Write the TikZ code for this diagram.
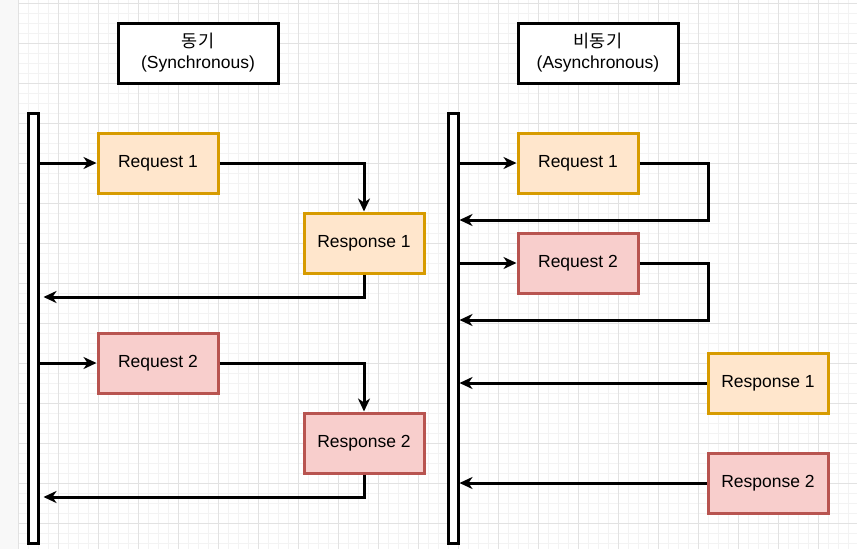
\documentclass[tikz,border=0pt]{standalone}
\usepackage{fontspec}
\setmainfont{Liberation Sans}
\newfontfamily\kofont{Noto Sans CJK KR}
\usetikzlibrary{arrows.meta}
\definecolor{gridminor}{HTML}{F3F3F3}
\definecolor{gridmajor}{HTML}{E2E2E2}
\definecolor{margin}{HTML}{F8F8F8}
\definecolor{orangefill}{HTML}{FFE6CC}
\definecolor{orangeline}{HTML}{D79B00}
\definecolor{redfill}{HTML}{F8CECC}
\definecolor{redline}{HTML}{B85450}
\tikzset{
  x=1pt, y=-1pt,
  box/.style={rectangle, minimum width=120pt, minimum height=60pt, inner sep=0pt,
    line width=3pt, font=\fontsize{17.5}{21}\selectfont, align=center},
  titlebox/.style={box, draw=black, fill=white, minimum width=160pt},
  orangebox/.style={box, draw=orangeline, fill=orangefill},
  redbox/.style={box, draw=redline, fill=redfill},
  lifeline/.style={rectangle, draw=black, fill=white, line width=3pt,
    minimum width=10pt, minimum height=430pt, inner sep=0pt},
  conn/.style={line width=3pt, -{Stealth[length=13pt,width=12pt,inset=4pt]}},
}
\begin{document}
\begin{tikzpicture}
\useasboundingbox (0,0) rectangle (857,549);
% canvas and grid
\fill[white] (0,0) rectangle (857,549);
\fill[margin] (0,0) rectangle (18,549);
\foreach \gx in {18,28,...,857} \draw[gridminor, line width=0.8pt] (\gx,0) -- (\gx,549);
\foreach \gy in {3,13,...,549} \draw[gridminor, line width=0.8pt] (18,\gy) -- (857,\gy);
\foreach \gx in {18,58,...,857} \draw[gridmajor, line width=1pt] (\gx,0) -- (\gx,549);
\foreach \gy in {3,43,...,549} \draw[gridmajor, line width=1pt] (18,\gy) -- (857,\gy);

% titles
\node[titlebox] (tsync) at (198,53) {{\kofont 동기}\\(Synchronous)};
\node[titlebox] (tasync) at (598,53) {{\kofont 비동기}\\(Asynchronous)};

% lifelines
\node[lifeline] (lbar) at (33,328) {};
\node[lifeline] (rbar) at (453,328) {};

% synchronous side
\node[orangebox] (sreq1) at (158,163) {Request 1};
\node[orangebox] (sres1) at (364,243) {Response 1};
\node[redbox] (sreq2) at (158,363) {Request 2};
\node[redbox] (sres2) at (364,443) {Response 2};
\coordinate (sret1) at (0,297);
\coordinate (sret2) at (0,497);

\draw[conn] (lbar.east |- sreq1) -- (sreq1.west);
\draw[conn] (sreq1.east) -| (sres1.north);
\draw[conn, shorten >=4pt] (sres1.south) |- (lbar.east |- sret1);
\draw[conn] (lbar.east |- sreq2) -- (sreq2.west);
\draw[conn] (sreq2.east) -| (sres2.north);
\draw[conn, shorten >=4pt] (sres2.south) |- (lbar.east |- sret2);

% asynchronous side
\node[orangebox] (areq1) at (578,163) {Request 1};
\node[redbox] (areq2) at (578,263) {Request 2};
\node[orangebox] (ares1) at (768,383) {Response 1};
\node[redbox] (ares2) at (768,483) {Response 2};
\coordinate (aturn1) at (708,220);
\coordinate (aturn2) at (708,320);

\draw[conn] (rbar.east |- areq1) -- (areq1.west);
\draw[conn] (areq1.east) -| (aturn1) -- (rbar.east |- aturn1);
\draw[conn] (rbar.east |- areq2) -- (areq2.west);
\draw[conn] (areq2.east) -| (aturn2) -- (rbar.east |- aturn2);
\draw[conn] (ares1.west) -- (rbar.east |- ares1);
\draw[conn] (ares2.west) -- (rbar.east |- ares2);
\end{tikzpicture}
\end{document}
